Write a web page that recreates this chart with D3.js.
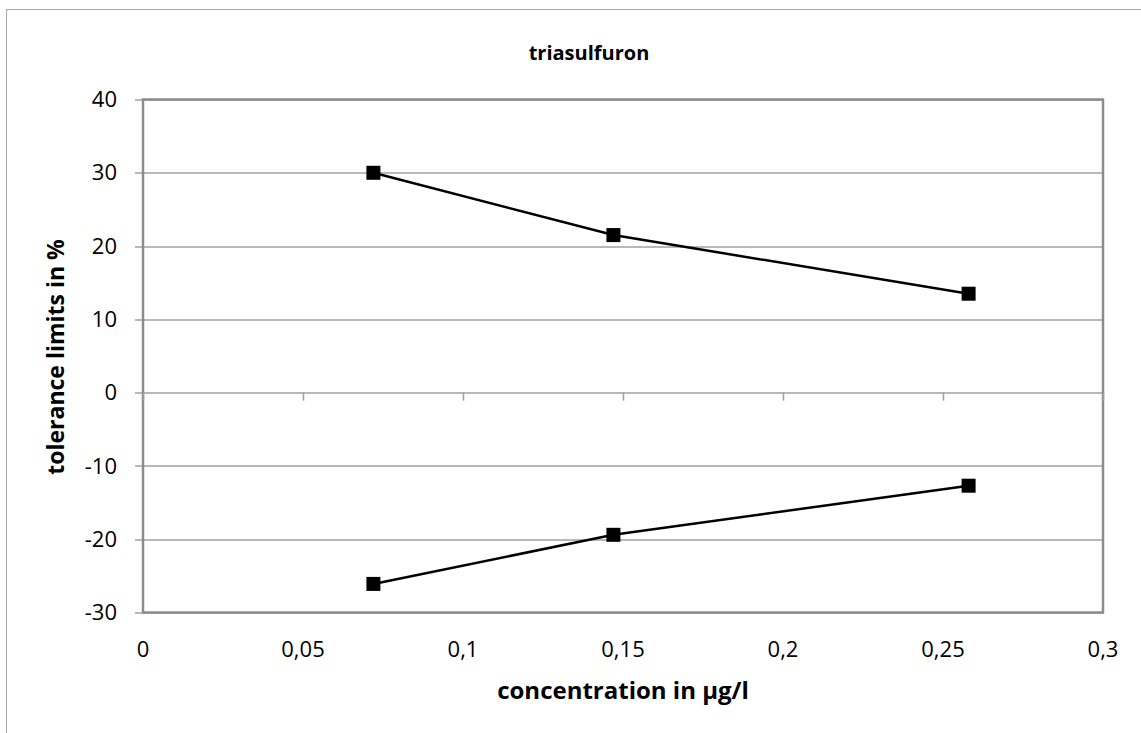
<!DOCTYPE html>
<html>
<head>
<meta charset="utf-8">
<script src="https://cdn.jsdelivr.net/npm/d3@7"></script>
<style>
  body { margin: 0; background: #fff; }
  text { font-family: "Open Sans", "Noto Sans", sans-serif; fill: #000; }
</style>
</head>
<body>
<div id="chart"></div>
<script>
// data
var concentration = [0.072, 0.147, 0.258];
var upperLimit = [30, 21.5, 13.5];
var lowerLimit = [-26.1, -19.4, -12.7];
var xTicks = [0, 0.05, 0.1, 0.15, 0.2, 0.25, 0.3];
var yTicks = [-30, -20, -10, 0, 10, 20, 30, 40];

var svgWidth = 1141;
var svgHeight = 733;
var margin = { top: 99.5, right: 38, bottom: 120.5, left: 143 };
var width = svgWidth - margin.left - margin.right;
var height = svgHeight - margin.top - margin.bottom;

var svg = d3.select("#chart")
  .append("svg")
  .attr("width", svgWidth)
  .attr("height", svgHeight);

// outer chart border
svg.append("rect")
  .attr("x", 6.5).attr("y", 9.5)
  .attr("width", 1150).attr("height", 740)
  .attr("fill", "none")
  .attr("stroke", "#a6a6a6")
  .attr("stroke-width", 1);

var chart = svg.append("g")
  .attr("transform", "translate(" + margin.left + "," + margin.top + ")");

var xScale = d3.scaleLinear().domain([0, 0.3]).range([0, width]);
var yScale = d3.scaleLinear().domain([-30, 40]).range([height, 0]);

var fmt = function(d) { return String(d).replace(".", ","); };

// horizontal gridlines
chart.append("g")
  .selectAll("line")
  .data(yTicks)
  .enter()
  .append("line")
  .attr("x1", -8)
  .attr("x2", width)
  .attr("y1", function(d) { return Math.round(yScale(d)) + 0.5; })
  .attr("y2", function(d) { return Math.round(yScale(d)) + 0.5; })
  .attr("stroke", "#a0a0a0")
  .attr("stroke-width", 1.5);

// plot area border
chart.append("rect")
  .attr("x", 0).attr("y", 0)
  .attr("width", width).attr("height", height)
  .attr("fill", "none")
  .attr("stroke", "#8c8c8c")
  .attr("stroke-width", 2.5);

// x axis sits on zero
var xAxis = d3.axisBottom(xScale)
  .tickValues(xTicks)
  .tickSize(8)
  .tickFormat("");
var xg = chart.append("g")
  .attr("transform", "translate(0," + yScale(0) + ")")
  .call(xAxis);
xg.select(".domain").remove();
xg.selectAll("line").attr("stroke", "#a0a0a0").attr("stroke-width", 1.5);

// x tick labels below plot
chart.append("g")
  .selectAll("text")
  .data(xTicks)
  .enter()
  .append("text")
  .attr("x", function(d) { return xScale(d); })
  .attr("y", height + 44)
  .attr("text-anchor", "middle")
  .style("font-size", "22px")
  .text(fmt);

// y tick labels
chart.append("g")
  .selectAll("text")
  .data(yTicks)
  .enter()
  .append("text")
  .attr("x", -26)
  .attr("y", function(d) { return yScale(d); })
  .attr("dy", "0.35em")
  .attr("text-anchor", "end")
  .style("font-size", "22px")
  .text(fmt);

// lines and markers
var line = d3.line()
  .x(function(d) { return xScale(d[0]); })
  .y(function(d) { return yScale(d[1]); });

[upperLimit, lowerLimit].forEach(function(series) {
  var pts = concentration.map(function(c, i) { return [c, series[i]]; });
  chart.append("path")
    .datum(pts)
    .attr("d", line)
    .attr("fill", "none")
    .attr("stroke", "#000")
    .attr("stroke-width", 2.5);
  chart.append("g")
    .selectAll("rect")
    .data(pts)
    .enter()
    .append("rect")
    .attr("x", function(d) { return xScale(d[0]) - 7; })
    .attr("y", function(d) { return yScale(d[1]) - 7; })
    .attr("width", 14)
    .attr("height", 14)
    .attr("fill", "#000");
});

// title
svg.append("text")
  .attr("x", 589)
  .attr("y", 60)
  .attr("text-anchor", "middle")
  .style("font-size", "20px")
  .style("font-weight", "bold")
  .text("triasulfuron");

// axis titles
svg.append("text")
  .attr("x", 623)
  .attr("y", 699)
  .attr("text-anchor", "middle")
  .style("font-size", "24px")
  .style("font-weight", "bold")
  .text("concentration in µg/l");

svg.append("text")
  .attr("transform", "translate(64,357) rotate(-90)")
  .attr("text-anchor", "middle")
  .style("font-size", "23px")
  .style("font-weight", "bold")
  .text("tolerance limits in %");
</script>
</body>
</html>
